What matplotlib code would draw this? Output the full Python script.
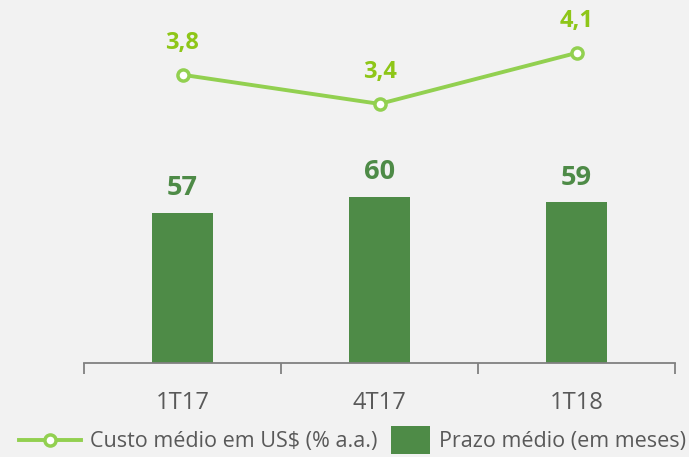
import matplotlib.pyplot as plt
from matplotlib.lines import Line2D
from matplotlib.patches import Patch, Rectangle
from matplotlib.legend_handler import HandlerPatch
import numpy as np

# data
periods = ["1T17", "4T17", "1T18"]
prazo = [57, 60, 59]            # prazo médio (meses)
custo = [3.8, 3.4, 4.1]         # custo médio em US$ (% a.a.)
custo_labels = ["3,8", "3,4", "4,1"]

BG = "#F2F2F2"
BAR = "#4E8B47"
LINE = "#92D050"
LINE_TXT = "#8EC618"
AXIS = "#808080"
TXT = "#595959"

plt.rcParams["font.family"] = ["Open Sans", "DejaVu Sans"]

fig = plt.figure(figsize=(6.89, 4.57), dpi=100, facecolor=BG)
ax = fig.add_axes([84 / 689, 94 / 457, 591 / 689, 353 / 457])
ax.set_facecolor(BG)

x = np.arange(len(periods))
ax.bar(x, prazo, width=0.31, color=BAR, zorder=2)
for xi, v in zip(x, prazo):
    ax.annotate(f"{v}", (xi, v), xytext=(0, 8.5), textcoords="offset points",
                ha="center", va="bottom", fontsize=19.5, fontweight="bold", color=BAR)

ax.set_xlim(-0.5, 2.5)
ax.set_ylim(28.9, 95.1)
ax.set_yticks([])
for s in ["top", "right", "left"]:
    ax.spines[s].set_visible(False)
ax.spines["bottom"].set_color(AXIS)
ax.spines["bottom"].set_linewidth(1.3)
ax.set_xticks(x)
ax.set_xticklabels(periods, fontsize=17, color=TXT)
ax.tick_params(axis="x", which="major", length=0, pad=20)
ax.set_xticks([-0.5, 0.5, 1.5, 2.5], minor=True)
ax.tick_params(axis="x", which="minor", length=8, width=1.3, color=AXIS)

ax2 = ax.twinx()
ax2.set_ylim(-0.16, 4.69)
ax2.axis("off")
ax2.plot(x, custo, color=LINE, lw=2.8, marker="o", markersize=8,
         markerfacecolor="white", markeredgecolor=LINE, markeredgewidth=2.5, zorder=3)
for xi, v, lab in zip(x, custo, custo_labels):
    ax2.annotate(lab, (xi, v), xytext=(0, 14), textcoords="offset points",
                 ha="center", va="bottom", fontsize=17, fontweight="bold", color=LINE_TXT)


def rect_handle(legend, orig_handle, xdescent, ydescent, width, height, fontsize):
    w, h = 28, 20
    return Rectangle((-xdescent + width - w, -ydescent + height / 2 - h / 2), w, h)


handles = [
    Line2D([], [], color=LINE, lw=2.8, marker="o", markersize=8,
           markerfacecolor="white", markeredgecolor=LINE, markeredgewidth=2.5),
    Patch(facecolor=BAR, edgecolor="none"),
]
labels = ["Custo médio em US$ (% a.a.)", "Prazo médio (em meses)"]
fig.legend(handles, labels, loc="lower center", bbox_to_anchor=(0.512, -0.032), ncol=2,
           frameon=False, fontsize=15.5, labelcolor=TXT, handlelength=2.85,
           columnspacing=-0.4, handletextpad=0.42,
           handler_map={Patch: HandlerPatch(patch_func=rect_handle)})

fig.savefig("out.png", dpi=100, facecolor=BG)
